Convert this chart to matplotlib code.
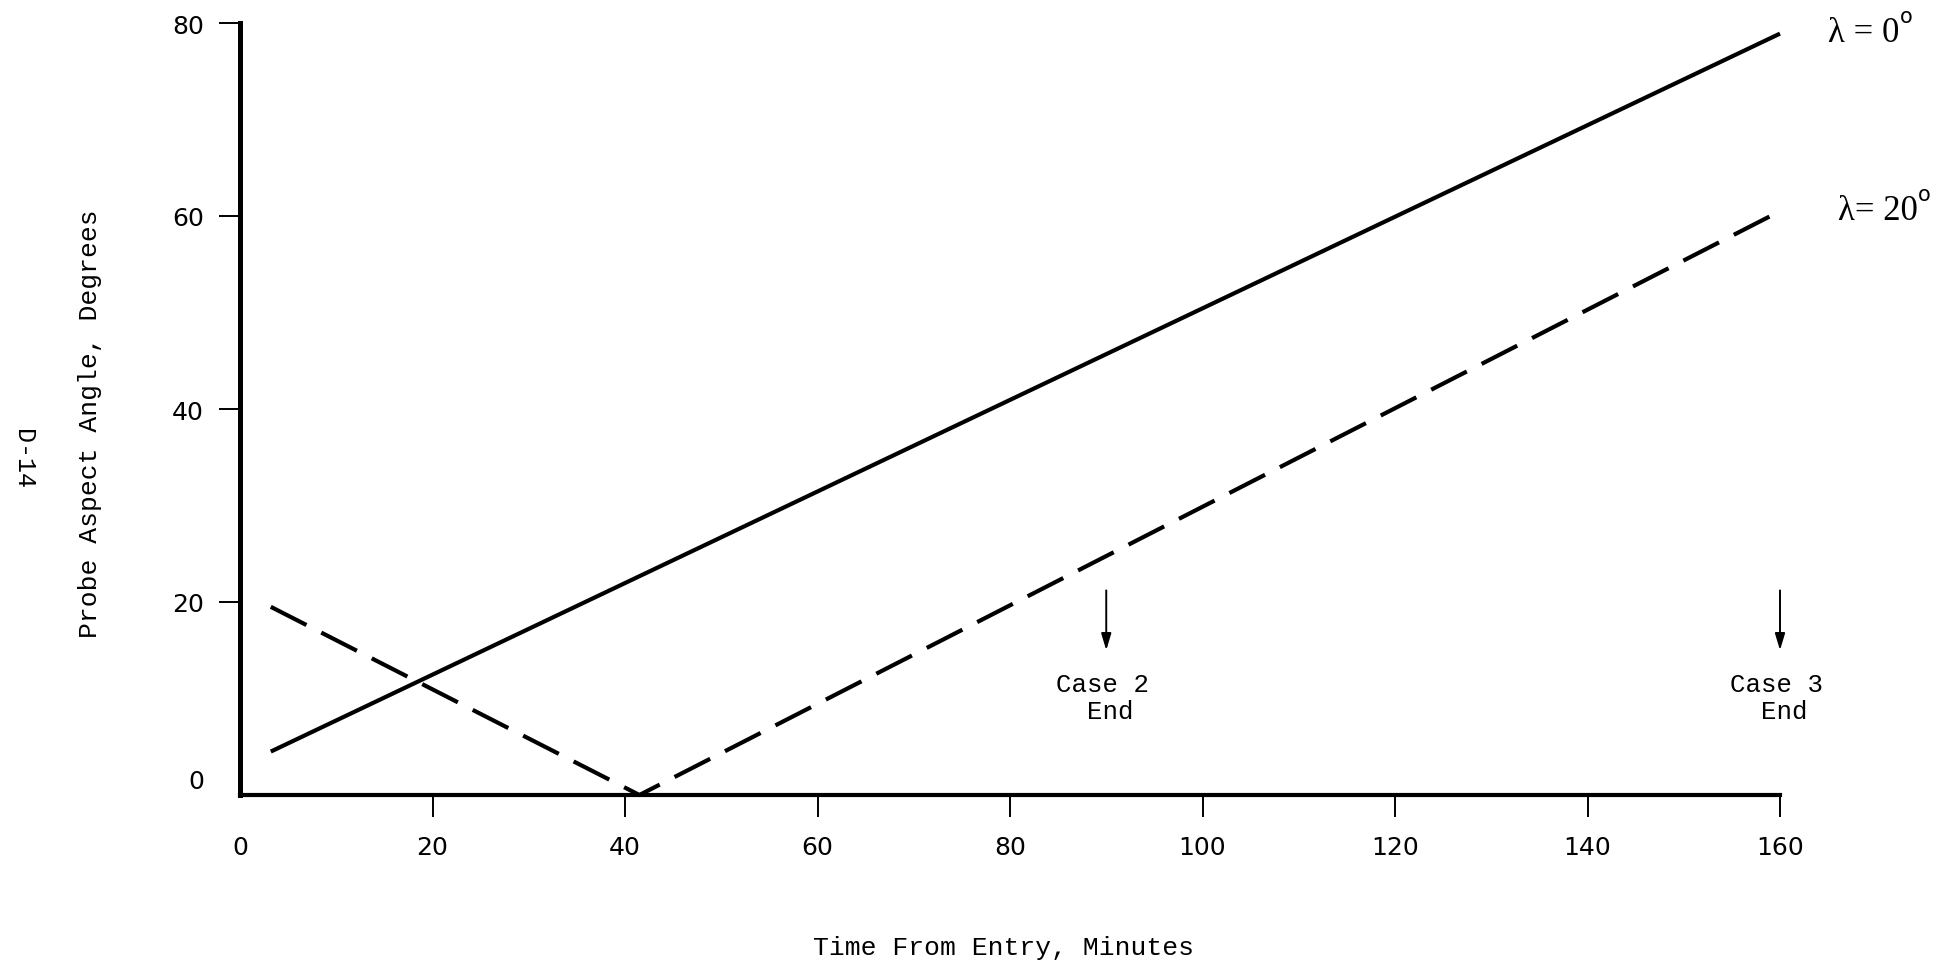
import matplotlib
matplotlib.use("Agg")
import matplotlib.pyplot as plt
import matplotlib.transforms as mtransforms

# Probe aspect angle vs time from entry, two latitudes
time_lam0 = [3.2, 160.0]
angle_lam0 = [4.5, 78.9]
time_lam20 = [3.2, 41.5, 160.0]
angle_lam20 = [19.5, 0.0, 60.5]

case_times = [90, 160]
case_names = ["Case 2", "Case 3"]
arrow_top = 21.2
arrow_tip = 15.0

x_ticks = [0, 20, 40, 60, 80, 100, 120, 140, 160]
y_ticks = [0, 20, 40, 60, 80]

W, H = 1944, 979
fig = plt.figure(figsize=(W / 100, H / 100), dpi=100)
fig.patch.set_facecolor("white")
ax = fig.add_axes([240 / W, 1 - 796 / H, 1540 / W, 772 / H])

mono = "Liberation Mono"
sans = "DejaVu Sans"
serif = "Liberation Serif"

ax.plot(time_lam0, angle_lam0, color="black", lw=3.0, solid_capstyle="butt",
        clip_on=False)
ax.plot(time_lam20, angle_lam20, color="black", lw=3.0, dashes=(9.6, 4.0),
        dash_capstyle="butt", clip_on=False)

ax.set_xlim(0, 160)
ax.set_ylim(0, 80)
for s in ["top", "right"]:
    ax.spines[s].set_visible(False)
ax.spines["left"].set_linewidth(3.6)
ax.spines["bottom"].set_linewidth(3.0)

ax.set_xticks(x_ticks)
ax.set_yticks(y_ticks)
ax.set_xticklabels([str(v) for v in x_ticks], fontfamily=sans, fontsize=18)
ax.set_yticklabels([str(v) for v in y_ticks], fontfamily=sans, fontsize=18)
ax.tick_params(axis="x", direction="out", length=16, width=1.4, pad=13)
ax.tick_params(axis="y", direction="out", length=15, width=1.4, pad=11)
ax.xaxis.get_major_ticks()[0].tick1line.set_visible(False)
ax.yaxis.get_major_ticks()[0].tick1line.set_visible(False)

# the zero on the angle axis sits a little above the baseline
zero_lbl = ax.get_yticklabels()[0]
zero_lbl.set_transform(zero_lbl.get_transform()
                       + mtransforms.ScaledTranslation(0, 16 / 100, fig.dpi_scale_trans))

# case end markers
for t, name in zip(case_times, case_names):
    ax.annotate("", xy=(t, arrow_tip), xytext=(t, arrow_top),
                arrowprops=dict(arrowstyle="-|>,head_length=1.0,head_width=0.3",
                                color="black", lw=1.4, shrinkA=0, shrinkB=0),
                annotation_clip=False)
    ax.text(t - 0.4, arrow_tip - 2.3, name + "\n  End", fontfamily=mono, fontsize=18.5,
            ha="center", va="top", multialignment="left", linespacing=1.15,
            clip_on=False)

# curve labels
lam_labels = [("\u03bb = 0", 165.0, 79.0), ("\u03bb= 20", 166.0, 60.6)]
for txt, xv, yv in lam_labels:
    t = ax.text(xv, yv, txt, fontfamily=serif, fontsize=25,
                ha="left", va="center", clip_on=False)
    ax.annotate("o", xy=(1, 1), xycoords=t, xytext=(0.5, 0),
                textcoords="offset points", fontfamily=sans, fontsize=15,
                ha="left", va="center", annotation_clip=False)

fig.text(1003 / W, 1 - 948 / H, "Time From Entry, Minutes", fontfamily=mono,
         fontsize=19, ha="center", va="center")
fig.text(90 / W, 1 - 424 / H, "Probe Aspect Angle, Degrees", fontfamily=mono,
         fontsize=19, ha="center", va="center", rotation=90)
fig.text(23 / W, 1 - 459 / H, "D-14", fontfamily=mono, fontsize=18,
         ha="center", va="center", rotation=-90)

fig.savefig("out.png", dpi=100, facecolor="white")
